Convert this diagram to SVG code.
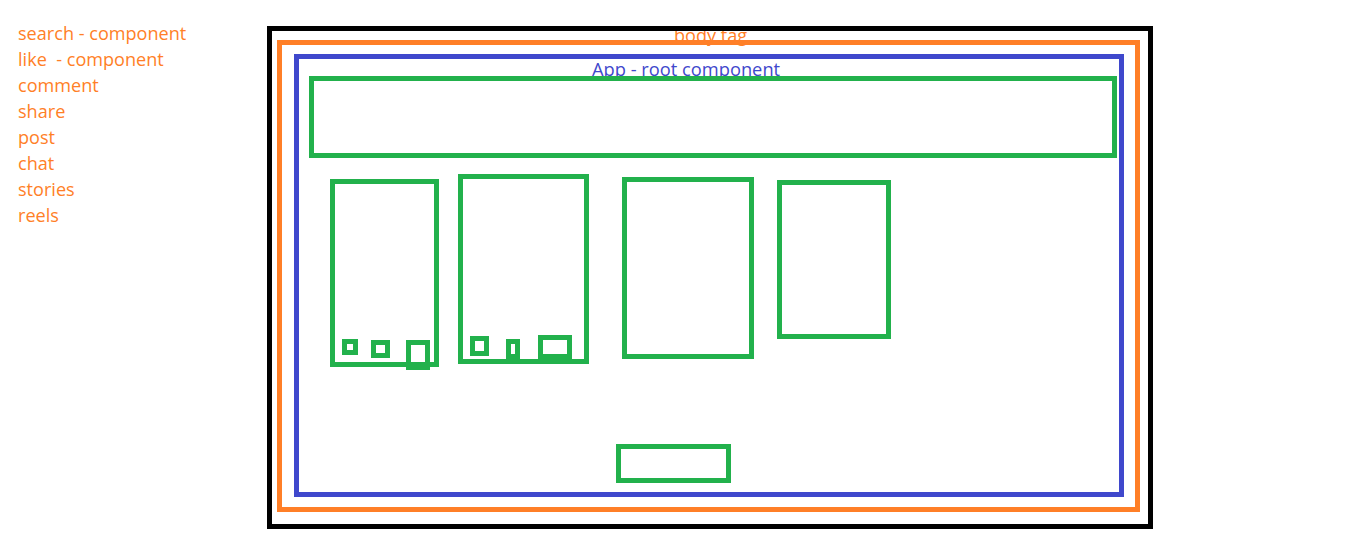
<svg xmlns="http://www.w3.org/2000/svg" width="1360" height="551" viewBox="0 0 1360 551">
<style>
.lbl{font-family:"Open Sans","Noto Sans",sans-serif;font-size:18.1px;fill:#FF7F27;white-space:pre}
.app{font-family:"Open Sans","Noto Sans",sans-serif;font-size:18.3px;fill:#3F48CC}
.g{fill:none;stroke:#22B14C;stroke-width:5}
</style>
<rect width="1360" height="551" fill="#fff"/>
<g id="legend">
<text class="lbl" x="18" y="40">search - component</text>
<text class="lbl" x="18" y="66" xml:space="preserve">like  - component</text>
<text class="lbl" x="18" y="92">comment</text>
<text class="lbl" x="18" y="118">share</text>
<text class="lbl" x="18" y="144">post</text>
<text class="lbl" x="18" y="170">chat</text>
<text class="lbl" x="18" y="196">stories</text>
<text class="lbl" x="18" y="222">reels</text>
</g>
<g id="labels">
<text class="lbl" x="674" y="42">body tag</text>
<text class="app" x="592" y="76">App - root component</text>
</g>
<g id="html"><rect x="269.5" y="28.5" width="881" height="498" fill="none" stroke="#000" stroke-width="5"/></g>
<g id="body"><rect x="279.5" y="42.5" width="858" height="467" fill="none" stroke="#FF7F27" stroke-width="5"/></g>
<g id="app"><rect x="296.5" y="56.5" width="825" height="438" fill="none" stroke="#3F48CC" stroke-width="5"/></g>
<g id="header"><rect class="g" x="311.5" y="78.5" width="803" height="77"/></g>
<g id="card1">
<rect class="g" x="332.5" y="181.5" width="104" height="183"/>
<rect class="g" x="344.5" y="341.5" width="11" height="11"/>
<rect class="g" x="373.5" y="342.5" width="14" height="13"/>
<rect class="g" x="408.5" y="342.5" width="19" height="25"/>
</g>
<g id="card2">
<rect class="g" x="460.5" y="176.5" width="126" height="185"/>
<rect class="g" x="472.5" y="338.5" width="14" height="15"/>
<rect class="g" x="508.5" y="341.5" width="9" height="15"/>
<rect class="g" x="540.5" y="337.5" width="29" height="19"/>
</g>
<g id="card3"><rect class="g" x="624.5" y="179.5" width="127" height="177"/></g>
<g id="card4"><rect class="g" x="779.5" y="182.5" width="109" height="154"/></g>
<g id="footer"><rect class="g" x="618.5" y="446.5" width="110" height="34"/></g>
<g id="connectors"/>
</svg>
